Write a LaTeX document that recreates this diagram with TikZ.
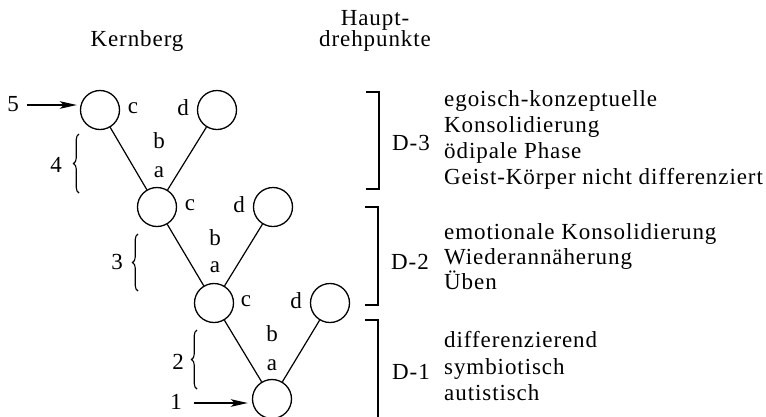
\documentclass[tikz,border=0pt]{standalone}
\usepackage{fontspec}
\setmainfont{Liberation Serif}[LetterSpace=4]
\usetikzlibrary{decorations.pathreplacing,arrows.meta}
\begin{document}
\begin{tikzpicture}[x=1pt,y=-1pt,
  stage/.style={circle,draw,line width=1.3pt,minimum size=39pt,inner sep=0pt},
  lbl/.style={font=\fontsize{23}{26}\selectfont,inner sep=0pt},
  row/.style={lbl,anchor=mid west},
  conn/.style={line width=1.2pt},
  entry/.style={-{Stealth[length=17pt,width=7.5pt,inset=4pt]},line width=2pt},
  brk/.style={line width=1.4pt},
  curly/.style={decorate,decoration={brace,amplitude=5.5pt},line width=1.1pt}
]
\useasboundingbox (0,0) rectangle (766,416);

% column headings
\node[lbl] (kern) at (137,41) {Kernberg};
\node[lbl] (haupt) at (375,20) {Haupt-};
\node[lbl] (dreh) at (375,41) {drehpunkte};

% stage circles
\node[stage] (L4) at (100,110) {};
\node[stage] (R4) at (217,110) {};
\node[stage] (L3) at (157,207) {};
\node[stage] (R3) at (273,207) {};
\node[stage] (L2) at (214,303) {};
\node[stage] (R2) at (330,303) {};
\node[stage] (L1) at (272,399) {};

% branches
\draw[conn] (L4) -- (L3);
\draw[conn] (R4) -- (L3);
\draw[conn] (L3) -- (L2);
\draw[conn] (R3) -- (L2);
\draw[conn] (L2) -- (L1);
\draw[conn] (R2) -- (L1);

% letters at the branches
\node[lbl] (c4) at (133,108) {c};
\node[lbl] (d4) at (183,108) {d};
\node[lbl] (b4) at (159,141) {b};
\node[lbl] (a4) at (159,172) {a};
\node[lbl] (c3) at (190,205) {c};
\node[lbl] (d3) at (239,205) {d};
\node[lbl] (b3) at (215,238) {b};
\node[lbl] (a3) at (215,267) {a};
\node[lbl] (c2) at (246,301) {c};
\node[lbl] (d2) at (296,301) {d};
\node[lbl] (b2) at (272,334) {b};
\node[lbl] (a2) at (272,365) {a};

% step braces with their numbers
\draw[curly] (79,193) -- (79,134);
\node[lbl] (n4) at (56,165) {4};
\draw[curly] (138,291) -- (138,234);
\node[lbl] (n3) at (117,262) {3};
\draw[curly] (197,389) -- (197,330);
\node[lbl] (n2) at (178,362) {2};

% entry arrows
\node[lbl] (n5) at (13,104) {5};
\draw[entry] ([xshift=8pt]n5.east |- 0,105) -- ([xshift=-3pt]L4.west |- 0,105);
\node[lbl] (n1) at (176,402) {1};
\draw[entry] ([xshift=12pt]n1.east |- 0,403) -- ([xshift=-4pt]L1.west |- 0,403);

% brackets of the main turning points
\draw[brk] (366,92) -- (379,92) -- (379,189) -- (366,189);
\draw[brk] (365,207) -- (378,207) -- (378,305) -- (365,305);
\draw[brk] (365,320) -- (378,320) -- (378,430);

\node[lbl] (D3) at (411,143) {D-3};
\node[lbl] (D2) at (410,262) {D-2};
\node[lbl] (D1) at (411,372) {D-1};

\node[row] (t31) at (444,104) {egoisch-konzeptuelle};
\node[row] (t32) at (444,130) {Konsolidierung};
\node[row] (t33) at (444,156) {ödipale Phase};
\node[row] (t34) at (444,182) {Geist-Körper nicht differenziert};

\node[row] (t21) at (444,237) {emotionale Konsolidierung};
\node[row] (t22) at (444,262) {Wiederannäherung};
\node[row] (t23) at (444,287) {Üben};

\node[row] (t11) at (444,345) {differenzierend};
\node[row] (t12) at (444,372) {symbiotisch};
\node[row] (t13) at (444,398) {autistisch};
\end{tikzpicture}
\end{document}
